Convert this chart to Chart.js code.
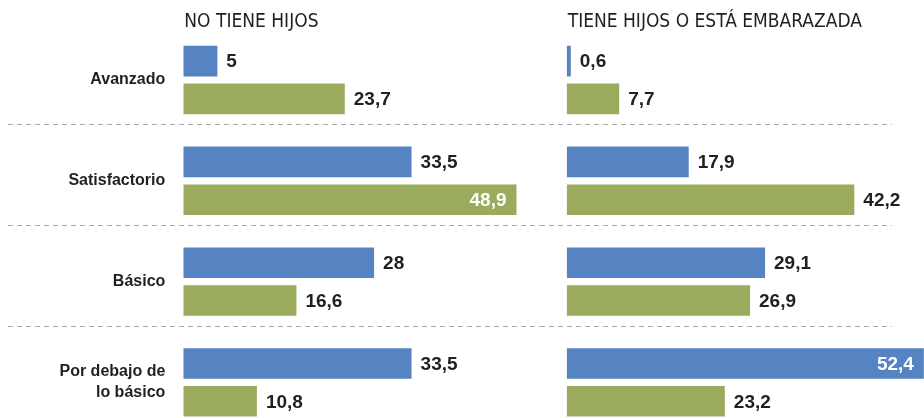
<!DOCTYPE html>
<html><head><meta charset="utf-8">
<script src="https://cdn.jsdelivr.net/npm/chart.js@4.4.1/dist/chart.umd.min.js"></script>
<style>
html,body{margin:0;padding:0;background:#fff;overflow:hidden;width:924px;height:418px;}
#wrap{position:relative;width:924px;height:418px;overflow:hidden;background:#fff;}
.c{position:absolute;top:0;height:440px;}
#left{left:0;width:540px;}
#right{left:540px;width:384px;}
</style></head><body>
<div id="wrap">
<div class="c" id="left"><canvas id="cl"></canvas></div>
<div class="c" id="right"><canvas id="cr"></canvas></div>
</div>
<script>
// ---- data ----
const categories = [["Avanzado"], ["Satisfactorio"], ["Básico"], ["Por debajo de", "lo básico"]];
const panelTitles = ["NO TIENE HIJOS", "TIENE HIJOS O ESTÁ EMBARAZADA"];
const seriesNames = ["Serie 1", "Serie 2"];
const noTieneHijosBlue = [5, 33.5, 28, 33.5];
const noTieneHijosGreen = [23.7, 48.9, 16.6, 10.8];
const tieneHijosBlue = [0.6, 17.9, 29.1, 52.4];
const tieneHijosGreen = [7.7, 42.2, 26.9, 23.2];

// ---- styles ----
const BLUE = '#5683c1';
const GREEN = '#9aab5d';
const TEXT = '#231f20';
const VALUE_FONT = "bold 19px 'Liberation Sans', Arial, sans-serif";
const HEAD_FONT = "19px 'Liberation Sans Narrow', 'Arial Narrow', 'DejaVu Sans Condensed', sans-serif";

function fmt(v) { return String(v).replace('.', ','); }

const panelPlugin = {
  id: 'panel',
  beforeDatasetsDraw(chart, args, opts) {
    const ctx = chart.ctx, ys = chart.scales.y;
    ctx.save();
    ctx.strokeStyle = '#a9a9a9';
    ctx.lineWidth = 1;
    ctx.setLineDash([5, 4]);
    for (let i = 0; i < categories.length - 1; i++) {
      const y = Math.round((ys.getPixelForValue(i) + ys.getPixelForValue(i + 1)) / 2 - 6) + 0.5;
      ctx.beginPath();
      ctx.moveTo(opts.lineFrom, y);
      ctx.lineTo(opts.lineTo, y);
      ctx.stroke();
    }
    ctx.restore();
  },
  afterDatasetsDraw(chart, args, opts) {
    const ctx = chart.ctx, area = chart.chartArea;
    ctx.save();
    ctx.font = HEAD_FONT;
    ctx.fillStyle = TEXT;
    ctx.textAlign = 'left';
    ctx.textBaseline = 'alphabetic';
    ctx.fillText(opts.title, area.left + 1, area.top - 3);
    ctx.font = VALUE_FONT;
    ctx.textBaseline = 'middle';
    chart.data.datasets.forEach((ds, di) => {
      const meta = chart.getDatasetMeta(di);
      meta.data.forEach((el, i) => {
        const txt = fmt(ds.data[i]);
        const w = ctx.measureText(txt).width;
        if (el.x + 9 + w > area.right + 2) {
          ctx.fillStyle = '#ffffff';
          ctx.textAlign = 'right';
          ctx.fillText(txt, el.x - 10, el.y + 1);
        } else {
          ctx.fillStyle = TEXT;
          ctx.textAlign = 'left';
          ctx.fillText(txt, el.x + 9, el.y + 1);
        }
      });
    });
    ctx.restore();
  }
};

function makeChart(id, blue, green, title, xMax, showLabels, padLeft, lineFrom, lineTo) {
  return new Chart(document.getElementById(id), {
    type: 'bar',
    data: {
      labels: categories,
      datasets: [
        { label: seriesNames[0], data: blue, backgroundColor: BLUE, borderWidth: 0,
          categoryPercentage: 0.75, barPercentage: 0.81 },
        { label: seriesNames[1], data: green, backgroundColor: GREEN, borderWidth: 0,
          categoryPercentage: 0.75, barPercentage: 0.81 }
      ]
    },
    options: {
      indexAxis: 'y',
      responsive: true,
      maintainAspectRatio: false,
      devicePixelRatio: 1,
      animation: false,
      layout: { padding: { top: 29.6, bottom: 7.2, left: padLeft, right: 0 } },
      plugins: {
        legend: { display: false },
        tooltip: { enabled: false },
        panel: { title: title, lineFrom: lineFrom, lineTo: lineTo }
      },
      scales: {
        x: { display: false, min: 0, max: xMax },
        y: {
          display: showLabels,
          grid: { display: false, drawTicks: false },
          border: { display: false },
          ticks: {
            color: TEXT,
            padding: 18,
            font: { family: "'Liberation Sans', Arial, sans-serif", size: 16, weight: 'bold', lineHeight: 1.3 }
          },
          afterFit(scale) {
            if (showLabels) { scale.width = 183.3; }
            scale.paddingTop = 0;
            scale.paddingBottom = 0;
          }
        }
      }
    },
    plugins: [panelPlugin]
  });
}

makeChart('cl', noTieneHijosBlue, noTieneHijosGreen, panelTitles[0], 52.35, true, 0, 8, 540);
makeChart('cr', tieneHijosBlue, tieneHijosGreen, panelTitles[1], 52.42, false, 26.7, 0, 352);
</script>
</body></html>
